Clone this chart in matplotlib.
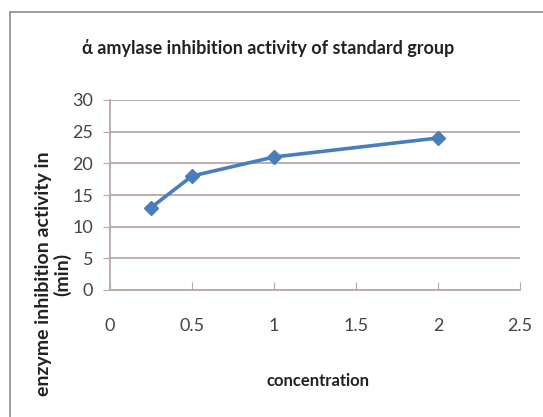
import matplotlib.pyplot as plt
from matplotlib.patches import Rectangle

# concentration vs inhibition time, standard group
concentration = [0.25, 0.5, 1, 2]
inhibition_min = [13, 18, 21, 24]
x_ticks = [0, 0.5, 1, 1.5, 2, 2.5]
x_tick_labels = ["0", "0.5", "1", "1.5", "2", "2.5"]
y_ticks = [0, 5, 10, 15, 20, 25, 30]

font = ["Lato", "DejaVu Sans"]
line_blue = "#4a7ebb"
grid_col = "#b8a8a8"

fig = plt.figure(figsize=(5.43, 4.17), dpi=100)
fig.patch.set_facecolor("white")

# frame around the chart (open at right/bottom)
fig.add_artist(Rectangle((10 / 543, -0.1), 1.2, 1 - 12 / 417 + 0.1,
                         transform=fig.transFigure, fill=False,
                         edgecolor="#8a8a8a", linewidth=1.2))

ax = fig.add_axes([110 / 543, 1 - 290 / 417, 410 / 543, 190 / 417])
ax.plot(concentration, inhibition_min, color=line_blue, linewidth=2.6,
        marker="D", markersize=7, markerfacecolor=line_blue,
        markeredgecolor=line_blue, zorder=3)

ax.set_xlim(0, 2.5)
ax.set_ylim(0, 30)
ax.set_xticks(x_ticks)
ax.set_xticklabels(x_tick_labels)
ax.set_yticks(y_ticks)
ax.yaxis.grid(True, color=grid_col, linewidth=1.3)
ax.set_axisbelow(True)
for side in ["top", "right"]:
    ax.spines[side].set_visible(False)
for side in ["left", "bottom"]:
    ax.spines[side].set_color(grid_col)
    ax.spines[side].set_linewidth(1.3)
ax.tick_params(axis="x", direction="in", length=6, color=grid_col, pad=20)
ax.tick_params(axis="y", direction="out", length=5, color=grid_col, pad=7)
for lab in ax.get_xticklabels() + ax.get_yticklabels():
    lab.set_family(font)
    lab.set_fontsize(13)
    lab.set_color("#444444")

fig.text(268 / 543, 1 - 48 / 417, "ά amylase inhibition activity of standard group",
         ha="center", va="center", fontsize=13, fontweight="bold",
         family=font, color="#222222")
fig.text(318 / 543, 1 - 381 / 417, "concentration", ha="center", va="center",
         fontsize=12, fontweight="bold", family=font, color="#222222")
fig.text(53 / 543, 1 - 274 / 417, "enzyme inhibition activity in\n(min)",
         ha="center", va="center", rotation=90, fontsize=14, fontweight="bold",
         family=font, color="#222222", linespacing=1.05)

fig.savefig("out.png", dpi=100)
